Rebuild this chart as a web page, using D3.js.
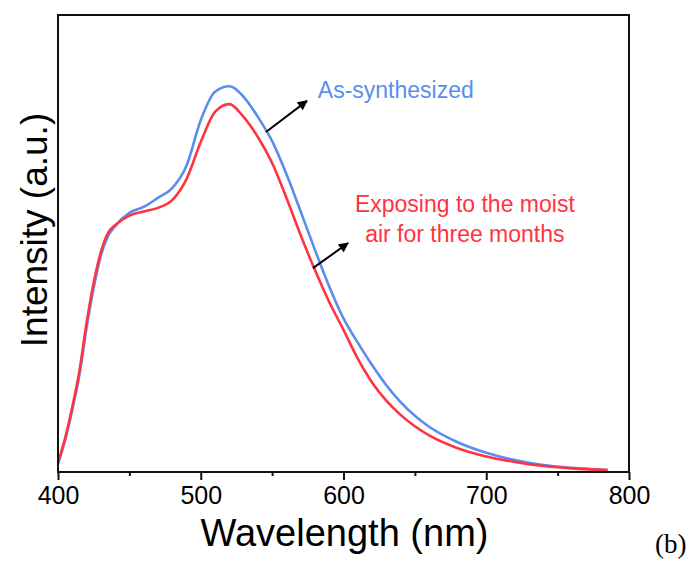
<!DOCTYPE html>
<html>
<head>
<meta charset="utf-8">
<script src="https://cdn.jsdelivr.net/npm/d3@7"></script>
<style>
body { margin: 0; background: white; }
</style>
</head>
<body>
<svg width="694" height="562"></svg>
<script>
var svg = d3.select('svg');

// Wavelength sample points (nm)
var wavelengths = [400, 405, 410, 415, 420, 425, 430, 435, 440, 450, 460, 470, 480, 490, 500, 510, 520, 530,
	540, 550, 560, 570, 580, 590, 600, 610, 620, 630, 640, 650, 660, 680, 700, 720, 740, 760, 785]

// PL intensity, arbitrary units
var asSynthesized = [1.8, 7.0, 13.6, 21.2, 31.5, 40.3, 47.3, 51.6, 53.8, 56.7, 58.0, 60.0, 62.1, 67.0, 77.0, 83.2, 84.4, 82.1,
	77.7, 72.4, 65.2, 57.0, 48.6, 40.6, 33.6, 28.3, 23.4, 19.0, 15.3, 12.3, 9.9, 6.5, 4.2, 2.6, 1.5, 0.9, 0.4]
var moistAir = [2.0, 7.4, 14.2, 22.1, 32.6, 41.4, 48.1, 52.3, 54.0, 56.1, 57.0, 57.8, 59.5, 64.1, 72.2, 78.8, 80.5, 77.7,
	73.3, 67.6, 60.0, 51.8, 44.2, 37.2, 31.1, 24.8, 19.6, 15.6, 12.5, 10.0, 8.0, 5.2, 3.4, 2.2, 1.3, 0.8, 0.4]

var majorTicks = [400, 500, 600, 700, 800]
var minorTicks = [450, 550, 650, 750]

var colors = {blue: '#5A8DEE', red: '#FF3341'}

// plot frame (window.top is reserved, so keep these in an object)
var frame = {left: 58, right: 629, top: 15, bottom: 472}

var x = d3.scaleLinear().domain([400, 800]).range([frame.left, frame.right])
var y = d3.scaleLinear().domain([0, 100]).range([frame.bottom, frame.top])

// arrow head
svg.append('defs').append('marker')
	.attr('id', 'head')
	.attr('viewBox', '0 0 10 10')
	.attr('refX', 9).attr('refY', 5)
	.attr('markerWidth', 6).attr('markerHeight', 5)
	.attr('markerUnits', 'strokeWidth')
	.attr('orient', 'auto')
	.append('path')
	.attr('d', 'M0,0 L10,5 L0,10 Z')
	.attr('fill', 'black')

// curves
var line = d3.line()
	.x(function(d, i) { return x(wavelengths[i]) })
	.y(function(d) { return y(d) })
	.curve(d3.curveMonotoneX)

svg.append('path').datum(asSynthesized)
	.attr('d', line)
	.attr('fill', 'none')
	.attr('stroke', colors.blue)
	.attr('stroke-width', 2.6)

svg.append('path').datum(moistAir)
	.attr('d', line)
	.attr('fill', 'none')
	.attr('stroke', colors.red)
	.attr('stroke-width', 2.6)

// frame
svg.append('rect')
	.attr('x', frame.left).attr('y', frame.top)
	.attr('width', frame.right - frame.left).attr('height', frame.bottom - frame.top)
	.attr('fill', 'none')
	.attr('stroke', '#111')
	.attr('stroke-width', 2)

// x axis, major + minor ticks
var xAxis = svg.append('g')
	.attr('transform', 'translate(0,' + frame.bottom + ')')
	.call(d3.axisBottom(x).tickValues(majorTicks).tickSize(8).tickSizeOuter(0).tickPadding(6))
xAxis.select('.domain').remove()
xAxis.selectAll('line').attr('stroke', '#111').attr('stroke-width', 2)
xAxis.selectAll('text')
	.attr('font-family', 'Liberation Sans, Arial')
	.attr('font-size', 25)
	.attr('fill', 'black')

var xMinor = svg.append('g')
	.attr('transform', 'translate(0,' + frame.bottom + ')')
	.call(d3.axisBottom(x).tickValues(minorTicks).tickSize(4).tickFormat(''))
xMinor.select('.domain').remove()
xMinor.selectAll('line').attr('stroke', '#111').attr('stroke-width', 2)

// axis titles
svg.append('text')
	.attr('x', (frame.left + frame.right) / 2 + 1)
	.attr('y', 546)
	.attr('text-anchor', 'middle')
	.attr('font-family', 'Liberation Sans, Arial')
	.attr('font-size', 38)
	.text('Wavelength (nm)')

svg.append('text')
	.attr('transform', 'translate(47,' + 230 + ') rotate(-90)')
	.attr('text-anchor', 'middle')
	.attr('font-family', 'Liberation Sans, Arial')
	.attr('font-size', 37)
	.text('Intensity (a.u.)')

svg.append('text')
	.attr('x', 655).attr('y', 553)
	.attr('font-family', 'Liberation Serif, Times New Roman')
	.attr('font-size', 27)
	.text('(b)')

// annotations
var arrows = [
	{from: [545.7, 74.4], to: [574.4, 81.2]},
	{from: [578.6, 44.6], to: [603.2, 50.1]}
]
svg.selectAll('.arrow')
	.data(arrows)
	.enter()
	.append('line')
	.attr('class', 'arrow')
	.attr('x1', function(d) { return x(d.from[0]) })
	.attr('y1', function(d) { return y(d.from[1]) })
	.attr('x2', function(d) { return x(d.to[0]) })
	.attr('y2', function(d) { return y(d.to[1]) })
	.attr('stroke', 'black')
	.attr('stroke-width', 2)
	.attr('marker-end', 'url(#head)')

svg.append('text')
	.attr('x', x(582)).attr('y', y(81.8))
	.attr('font-family', 'Liberation Sans, Arial')
	.attr('font-size', 23)
	.attr('fill', colors.blue)
	.text('As-synthesized')

var redLabel = ['Exposing to the moist', 'air for three months']
svg.selectAll('.redlabel')
	.data(redLabel)
	.enter()
	.append('text')
	.attr('class', 'redlabel')
	.attr('x', x(685))
	.attr('y', function(d, i) { return y(56.9 - i * 6.6) })
	.attr('text-anchor', 'middle')
	.attr('font-family', 'Liberation Sans, Arial')
	.attr('font-size', 23)
	.attr('fill', colors.red)
	.text(function(d) { return d })
</script>
</body>
</html>
